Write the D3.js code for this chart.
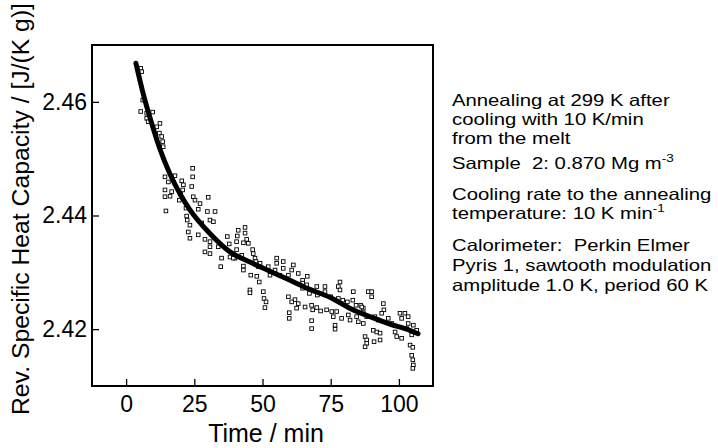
<!DOCTYPE html>
<html>
<head>
<meta charset="utf-8">
<script src="https://cdn.jsdelivr.net/npm/d3@7"></script>
<style>
  body { margin: 0; background: #fff; }
  svg { display: block; font-family: "Liberation Sans", Arial, sans-serif; }
  .note { white-space: pre; }
</style>
</head>
<body>
<svg id="chart" width="718" height="448"></svg>
<script>
// measured points (time in min, rev. cp in J/(K g))
const scatterTime = [
  5.35, 5.7, 6.1, 5.35, 7.55, 9.75, 7.55, 8.1, 12.4, 11.2, 12.2, 13.05, 13.4, 13.6,
  24.4, 24.4, 14.25, 17.9, 15.5, 14.25, 20.75, 24.05, 16.7, 20.4, 21.0, 20.0, 14.25,
  16.1, 24.6, 25.25, 27.1, 30.1, 19.5, 14.6, 21.95, 26.45, 29.8, 32.6, 22.2, 22.4,
  30.75, 32.0, 23.4, 27.7, 22.8, 26.45, 23.4, 28.9, 30.75, 37.1, 41.1, 40.75, 30.75,
  33.8, 37.8, 40.5, 28.9, 30.75, 35.0, 38.1, 39.9, 34.7, 43.6, 43.6, 44.2, 43.0, 44.8,
  46.4, 46.6, 40.5, 42.4, 39.3, 47.25, 43.0, 43.0, 47.6, 49.1, 45.7, 47.9, 48.8, 48.5,
  52.1, 55.2, 55.2, 57.6, 54.6, 57.6, 61.3, 60.7, 63.1, 52.75, 56.4, 59.5, 64.7, 66.4,
  45.4, 45.4, 50.3, 50.55, 51.3, 50.9, 59.5, 61.9, 60.7, 63.1, 62.5, 59.8, 59.8, 65.6,
  64.7, 66.2, 64.7, 69.9, 72.9, 72.9, 67.2, 70.1, 78.4, 77.8, 78.4, 75.0, 77.8, 79.4,
  81.1, 83.3, 83.1, 84.3, 86.0, 86.95, 88.8, 68.0, 68.4, 69.9, 71.3, 73.5, 75.4, 75.95,
  77.2, 79.0, 81.45, 82.1, 84.5, 85.1, 86.95, 68.0, 68.0, 76.6, 76.6, 87.6, 88.2, 86.4,
  86.95, 90.0, 90.0, 88.2, 91.2, 92.45, 94.3, 94.5, 93.7, 96.1, 97.4, 90.6, 91.9, 93.1,
  93.1, 90.9, 88.2, 87.6, 98.6, 99.2, 101.0, 100.4, 102.2, 101.0, 103.4, 103.4, 105.3,
  102.9, 104.7, 104.1, 105.1, 104.7, 105.1, 105.3, 105.1, 106.5
];
const scatterCp = [
  2.4659, 2.4653, 2.4603, 2.4583, 2.4580, 2.4582, 2.4571, 2.4565, 2.4562, 2.4556, 2.4545, 2.4539, 2.4530, 2.4521,
  2.4483, 2.4468, 2.4468, 2.4470, 2.4459, 2.4445, 2.4445, 2.4451, 2.4442, 2.4461, 2.4454, 2.4438, 2.4433,
  2.4434, 2.4433, 2.4427, 2.4421, 2.4432, 2.4427, 2.4408, 2.4413, 2.4411, 2.4407, 2.4407, 2.4399, 2.4392,
  2.4392, 2.4389, 2.4383, 2.4387, 2.4371, 2.4366, 2.4360, 2.4358, 2.4354, 2.4363, 2.4374, 2.4364, 2.4345,
  2.4345, 2.4350, 2.4354, 2.4336, 2.4333, 2.4325, 2.4327, 2.4325, 2.4310, 2.4379, 2.4369, 2.4358, 2.4352, 2.4351,
  2.4340, 2.4333, 2.4340, 2.4330, 2.4325, 2.4325, 2.4311, 2.4304, 2.4319, 2.4316, 2.4295, 2.4293, 2.4283, 2.4310,
  2.4310, 2.4325, 2.4316, 2.4319, 2.4304, 2.4307, 2.4313, 2.4304, 2.4298, 2.4295, 2.4295, 2.4295, 2.4286, 2.4293,
  2.4269, 2.4264, 2.4266, 2.4254, 2.4248, 2.4238, 2.4257, 2.4252, 2.4248, 2.4245, 2.4237, 2.4229, 2.4219, 2.4239,
  2.4281, 2.4278, 2.4272, 2.4275, 2.4275, 2.4266, 2.4263, 2.4260, 2.4283, 2.4275, 2.4269, 2.4257, 2.4254, 2.4251,
  2.4248, 2.4266, 2.4251, 2.4242, 2.4242, 2.4237, 2.4266, 2.4242, 2.4234, 2.4238, 2.4232, 2.4234, 2.4231, 2.4222,
  2.4231, 2.4219, 2.4225, 2.4216, 2.4222, 2.4213, 2.4210, 2.4215, 2.4201, 2.4207, 2.4200, 2.4187, 2.4181, 2.4239,
  2.4229, 2.4266, 2.4257, 2.4222, 2.4222, 2.4216, 2.4245, 2.4234, 2.4228, 2.4219, 2.4210, 2.4198, 2.4195, 2.4193,
  2.4181, 2.4178, 2.4175, 2.4169, 2.4195, 2.4187, 2.4184, 2.4228, 2.4228, 2.4219, 2.4222, 2.4210, 2.4207,
  2.4201, 2.4190, 2.4172, 2.4168, 2.4154, 2.4146, 2.4137, 2.4131, 2.4198
];

// fitted curve
const fitTime = [3.6, 6.5, 9.9, 12.4, 16, 20, 23.4, 30.8, 38.1, 45.4, 52.7, 60.1, 67.4, 74.7, 82, 89.4, 96.7, 104, 107];
const fitCp = [2.4668, 2.4610, 2.4554, 2.4517, 2.4474, 2.4436, 2.4410, 2.4368, 2.4336, 2.4318, 2.4302, 2.4286,
  2.4270, 2.4256, 2.4237, 2.4222, 2.4209, 2.4198, 2.4192];

const xTickValues = [0, 25, 50, 75, 100];
const yTickValues = [2.42, 2.44, 2.46];
const xTitle = "Time / min";
const yTitle = "Rev. Specific Heat Capacity / [J/(K g)]";

// [text, superscript]
const noteLines = [
  ["Annealing at 299 K after", ""],
  ["cooling with 10 K/min", ""],
  ["from the melt", ""],
  ["Sample  2: 0.870 Mg m", "-3"],
  ["Cooling rate to the annealing", ""],
  ["temperature: 10 K min", "-1"],
  ["Calorimeter:  Perkin Elmer", ""],
  ["Pyris 1, sawtooth modulation", ""],
  ["amplitude 1.0 K, period 60 K", ""]
];
const noteBaselines = [106, 125, 144, 169, 200, 219, 251, 271, 291];

const margin = { top: 45, right: 285, bottom: 62, left: 92 };
const width = 718 - margin.left - margin.right;
const height = 448 - margin.top - margin.bottom;

const svg = d3.select("#chart");
const g = svg.append("g").attr("transform", `translate(${margin.left},${margin.top})`);

const x = d3.scaleLinear().domain([-12.5, 112.5]).range([0, width]);
const y = d3.scaleLinear().domain([2.41, 2.47]).range([height, 0]);

// axes, ticks pointing inward
const xAxis = d3.axisBottom(x).tickValues(xTickValues).tickSize(-7).tickPadding(10);
const yAxis = d3.axisLeft(y).tickValues(yTickValues).tickSize(-7).tickPadding(5).tickFormat(d3.format(".2f"));

const gx = g.append("g").attr("transform", `translate(0,${height})`).call(xAxis);
const gy = g.append("g").call(yAxis);

[gx, gy].forEach((a) => {
  a.select(".domain").remove();
  a.selectAll(".tick line").attr("stroke", "#000").attr("stroke-width", 1.3);
  a.selectAll(".tick text")
    .attr("fill", "#000")
    .attr("font-size", 23)
    .attr("font-family", '"Liberation Sans", Arial, sans-serif');
});

// points
const points = scatterTime.map((t, i) => ({ t, cp: scatterCp[i] }));
const s = 3.6;
g.selectAll(".pt")
  .data(points)
  .enter()
  .append("rect")
  .attr("class", "pt")
  .attr("x", (d) => x(d.t) - s / 2)
  .attr("y", (d) => y(d.cp) - s / 2)
  .attr("width", s)
  .attr("height", s)
  .attr("fill", "#fff")
  .attr("stroke", "#000")
  .attr("stroke-width", 0.9);

// fit line on top
const fit = fitTime.map((t, i) => ({ t, cp: fitCp[i] }));
const line = d3.line().x((d) => x(d.t)).y((d) => y(d.cp)).curve(d3.curveMonotoneX);
g.append("path")
  .datum(fit)
  .attr("d", line)
  .attr("fill", "none")
  .attr("stroke", "#000")
  .attr("stroke-width", 5)
  .attr("stroke-linecap", "round");

// frame
g.append("rect")
  .attr("width", width)
  .attr("height", height)
  .attr("fill", "none")
  .attr("stroke", "#000")
  .attr("stroke-width", 2);

// titles
svg.append("text")
  .attr("x", 266)
  .attr("y", 442)
  .attr("text-anchor", "middle")
  .attr("font-size", 25)
  .text(xTitle);

svg.append("text")
  .attr("transform", "translate(29,415) rotate(-90)")
  .attr("font-size", 23)
  .attr("textLength", 412)
  .attr("lengthAdjust", "spacingAndGlyphs")
  .text(yTitle);

// notes
const notes = svg.append("g").attr("transform", "translate(452,0) scale(1.23,1)");
noteLines.forEach(([txt, sup], i) => {
  const t = notes.append("text")
    .attr("class", "note")
    .attr("x", 0)
    .attr("y", noteBaselines[i])
    .attr("font-size", 16.5);
  t.append("tspan").text(txt);
  if (sup) t.append("tspan").attr("dy", -7).attr("font-size", 11).text(sup);
});
</script>
</body>
</html>
